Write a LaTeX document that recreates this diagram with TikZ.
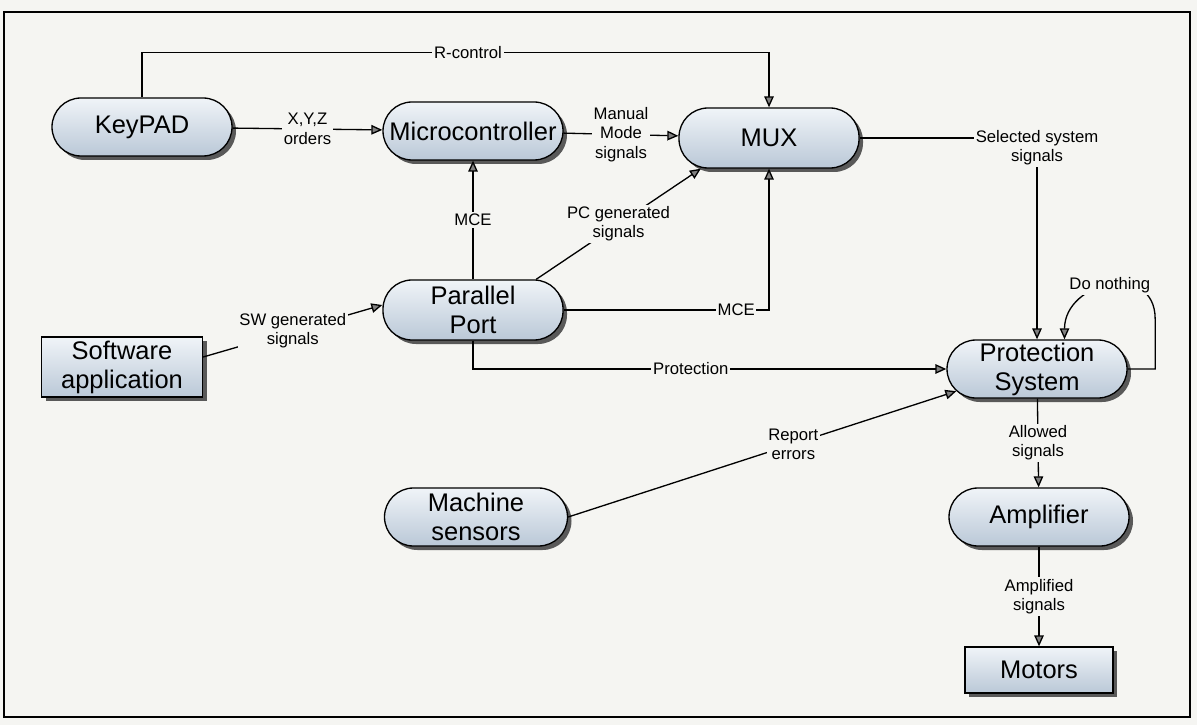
\documentclass[tikz,border=0pt]{standalone}
\usepackage{fontspec}
\setmainfont{Liberation Sans}
\usetikzlibrary{arrows.meta,shadows}
\definecolor{paper}{RGB}{245,245,242}
\definecolor{boxtop}{RGB}{240,244,248}
\definecolor{boxbot}{RGB}{186,200,215}

\begin{document}
\begin{tikzpicture}[>={Triangle[length=2.2mm,width=1.9mm,fill=gray]},line width=0.75pt,
	main node/.style = {draw, rounded corners=0.58cm, minimum width=3.6cm, minimum height=1.16cm,
		top color=boxtop, bottom color=boxbot, align=center, inner sep=1pt,
		drop shadow={shadow xshift=0.8mm, shadow yshift=-0.8mm, fill=black!65, opacity=1},
		font=\fontsize{14.5}{16.5}\selectfont},
	box node/.style = {main node, sharp corners},
	sig/.style = {fill=paper, inner sep=1pt, align=center, font=\fontsize{9.5}{11}\selectfont}]
	
	\fill[paper] (0,0) rectangle (23.94,-14.5);
	\draw[line width=0.8pt] (0.08,-0.24) rectangle (23.8,-14.34);
	
	\node[main node] (kp) at (2.84,-2.54) {KeyPAD};
	\node[main node] (mc) at (9.46,-2.62) {Microcontroller};
	\node[main node, minimum height=1.2cm] (mux) at (15.38,-2.76) {MUX};
	\node[main node, minimum height=1.2cm] (pp) at (9.46,-6.2) {Parallel\\Port};
	\node[box node, minimum width=3.22cm, minimum height=1.2cm] (sw) at (2.44,-7.34) {Software\\application};
	\node[main node] (ps) at (20.74,-7.38) {Protection\\System};
	\node[main node, minimum width=3.66cm] (ms) at (9.52,-10.34) {Machine\\sensors};
	\node[main node] (amp) at (20.78,-10.34) {Amplifier};
	\node[box node, minimum width=2.96cm, minimum height=0.92cm] (mot) at (20.78,-13.4) {Motors};
	
	\path[->]
	(kp) edge node[sig] {X,Y,Z\\orders} (mc)
	(mc) edge node[sig] {Manual\\Mode\\signals} (mux)
	(pp) edge node[sig] {MCE} (mc)
	([xshift=-5.5mm]pp.north east) edge node[sig] {PC generated\\signals} ([xshift=4.5mm]mux.south west)
	([yshift=2mm]sw.east) edge node[sig] {SW generated\\signals} ([yshift=1mm]pp.west)
	(ms.east) edge node[sig, pos=0.58] {Report\\errors} ([xshift=2mm,yshift=1.5mm]ps.south west)
	(ps) edge node[sig] {Allowed\\signals} (amp)
	(amp) edge node[sig] {Amplified\\signals} (mot);
	
	\draw[->] (kp.north) -- ++(0,0.9) -| node[sig, pos=0.26] {R-control} (mux.north);
	\draw[->] (pp.east) -| node[sig, pos=0.42] {MCE} (mux.south);
	\draw[->] (pp.south) |- node[sig, pos=0.73] {Protection} (ps.west);
	\draw[->] (mux.east) -| node[sig, pos=0.5, yshift=-2mm] {Selected system\\signals} (ps.north);
	\draw[->] (ps.east) -| ++(0.55,1.0) to[out=90,in=90,looseness=1.6] node[sig] {Do nothing} ([xshift=5.5mm]ps.north);
\end{tikzpicture}
\end{document}
